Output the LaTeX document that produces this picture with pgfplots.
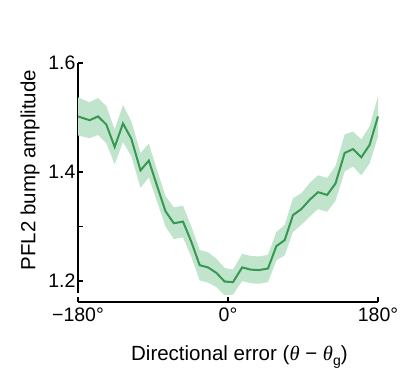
\documentclass[border=0pt]{standalone}
\usepackage{pgfplots}
\usepackage{pgfplotstable}
\pgfplotsset{compat=1.18}
\usepgfplotslibrary{fillbetween}
\usepackage{fontspec}
\setmainfont{Liberation Sans}
\newfontfamily\serif{Liberation Serif}
\definecolor{lineg}{RGB}{55,152,82}
\definecolor{bandg}{RGB}{192,229,204}
\pgfplotstableread{
x y e
-180 1.502 0.035
-166 1.495 0.033
-156 1.502 0.034
-146 1.487 0.034
-136 1.446 0.032
-126 1.489 0.034
-116 1.461 0.032
-105 1.403 0.032
-95 1.421 0.031
-85 1.374 0.029
-75 1.328 0.028
-65 1.306 0.029
-54 1.309 0.029
-44 1.272 0.028
-34 1.229 0.028
-24 1.225 0.028
-14 1.215 0.026
-4 1.199 0.025
6 1.198 0.023
17 1.225 0.025
27 1.221 0.025
37 1.220 0.025
48 1.223 0.025
58 1.264 0.026
68 1.275 0.028
78 1.321 0.031
88 1.332 0.029
98 1.349 0.031
108 1.363 0.031
119 1.358 0.031
129 1.379 0.032
140 1.435 0.034
150 1.442 0.032
160 1.427 0.033
170 1.450 0.034
180 1.502 0.037
}\datatable
\begin{document}
\begin{tikzpicture}
\begin{axis}[
  at={(0,0)}, anchor=south west,
  scale only axis, width=300pt, height=239pt,
  xmin=-180, xmax=180, ymin=1.1615, ymax=1.6,
  axis x line=bottom, axis y line=left,
  axis line style={line width=1.3pt, -},
  x axis line style={-},
  y axis line style={-, shorten <=9pt},
  xtick={-180,0,180}, xticklabels={−180°,0°,180°},
  ytick={1.2,1.3,1.4,1.5,1.6}, yticklabels={1.2,,1.4,,1.6},
  tick style={line width=1.2pt, black},
  major tick length=5pt,
  tick align=inside,
  /pgf/number format/assume math mode=true,
  tick label style={font=\fontsize{19.5}{22}\selectfont},
  xticklabel style={yshift=-2pt},
  yticklabel style={xshift=1pt},
  every axis y label/.style={at={(axis description cs:-0.16,0.552)}, rotate=90, anchor=center},
  every axis x label/.style={at={(axis description cs:0.538,-0.243)}, anchor=base},
  label style={font=\fontsize{20.5}{24}\selectfont},
  ylabel={PFL2 bump amplitude},
  xlabel={Directional error ({\serif\itshape θ} − {\serif\itshape θ}\raisebox{-0.25em}{\fontsize{14}{16}\selectfont g})},
  clip=false,
]
\addplot[name path=upper, draw=none, forget plot] table[x=x, y expr=\thisrow{y}+\thisrow{e}] {\datatable};
\addplot[name path=lower, draw=none, forget plot] table[x=x, y expr=\thisrow{y}-\thisrow{e}] {\datatable};
\addplot[bandg, draw=none, forget plot] fill between[of=upper and lower];
\addplot[lineg, line width=2pt, no marks] table[x=x, y=y] {\datatable};
\end{axis}
\pgfresetboundingbox
\useasboundingbox (-78pt,-68pt) rectangle (323pt,302pt);
\end{tikzpicture}
\end{document}
